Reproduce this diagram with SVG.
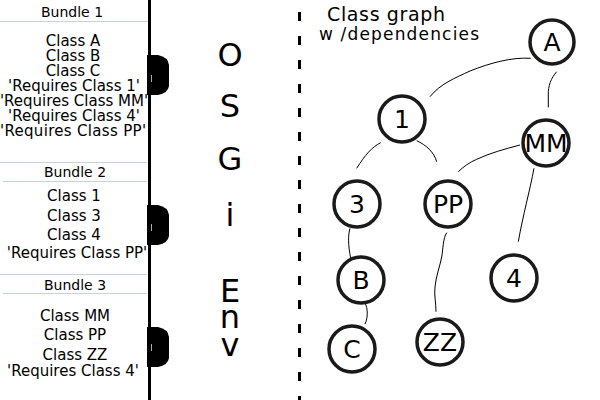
<svg xmlns="http://www.w3.org/2000/svg" width="600" height="400" viewBox="0 0 600 400">
<style>
.t{font-family:"DejaVu Sans","Liberation Sans",sans-serif;fill:#000}
.lst{font-size:15px;text-anchor:middle}
.hd{font-size:14px;text-anchor:middle}
.big{font-size:32px;text-anchor:middle}
.sep{stroke:#c5d3e0;stroke-width:1}
.node circle{fill:#fff;stroke:#1a1a1a;stroke-width:3.5}
.node text{font-family:"DejaVu Sans","Liberation Sans",sans-serif;font-size:25px;text-anchor:middle;fill:#000}
.edge{fill:none;stroke:#000;stroke-width:1}
</style>
<defs>
<path id="tab" d="M147,0 H158 Q168,2 169,10 V31 Q168,38 158,40 H147 Z" fill="#000"/>
</defs>
<rect width="600" height="400" fill="#fff"/>

<g id="bundles">
<line class="sep" x1="0" y1="21.5" x2="148" y2="21.5"/>
<line class="sep" x1="0" y1="162.5" x2="147" y2="162.5"/>
<line class="sep" x1="3" y1="181.5" x2="147" y2="181.5"/>
<line class="sep" x1="0" y1="274.5" x2="147" y2="274.5"/>
<line class="sep" x1="3" y1="293.5" x2="147" y2="293.5"/>
<g id="bundle1">
<text class="t hd" x="72" y="17">Bundle 1</text>
<text class="t lst" x="73" y="46">Class A</text>
<text class="t lst" x="73" y="61">Class B</text>
<text class="t lst" x="73" y="76">Class C</text>
<text class="t lst" x="74" y="91">'Requires Class 1'</text>
<text class="t lst" x="74" y="106">'Requires Class MM'</text>
<text class="t lst" x="74" y="121">'Requires Class 4'</text>
<text class="t lst" x="73" y="136" textLength="146">'Requires Class PP'</text>
</g>
<g id="bundle2">
<text class="t hd" x="75" y="177">Bundle 2</text>
<text class="t lst" x="74" y="201">Class 1</text>
<text class="t lst" x="74" y="221">Class 3</text>
<text class="t lst" x="74" y="240">Class 4</text>
<text class="t lst" x="77" y="258">'Requires Class PP'</text>
</g>
<g id="bundle3">
<text class="t hd" x="75" y="290">Bundle 3</text>
<text class="t lst" x="75" y="321">Class MM</text>
<text class="t lst" x="75" y="340">Class PP</text>
<text class="t lst" x="75" y="360">Class ZZ</text>
<text class="t lst" x="73" y="376">'Requires Class 4'</text>
</g>
<line x1="149.5" y1="0" x2="149.5" y2="400" stroke="#000" stroke-width="3"/>
<use href="#tab" y="55"/>
<use href="#tab" y="205"/>
<use href="#tab" y="327"/>
<line x1="151.5" y1="75" x2="151.5" y2="82" stroke="#aaa" stroke-width="1"/>
<line x1="151.5" y1="224" x2="151.5" y2="231" stroke="#aaa" stroke-width="1"/>
<line x1="151.5" y1="344" x2="151.5" y2="351" stroke="#aaa" stroke-width="1"/>
</g>

<g id="osgi">
<text class="t big" x="230" y="66">O</text>
<text class="t big" x="230" y="117">S</text>
<text class="t big" x="230" y="170">G</text>
<text class="t big" x="230" y="226">i</text>
<text class="t big" x="230" y="302">E</text>
<text class="t big" x="230" y="328">n</text>
<text class="t big" x="230" y="356">v</text>
</g>

<line id="divider" x1="299.5" y1="12" x2="299.5" y2="400" stroke="#000" stroke-width="3" stroke-dasharray="9 15"/>

<g id="title">
<text class="t" x="327" y="21" font-size="19" textLength="118">Class graph</text>
<text class="t" x="319" y="40" font-size="17" textLength="160">w /dependencies</text>
</g>

<g id="connectors">
<path class="edge" d="M530.7,58.3 C512,57 490,63 470,71 C455,78 440,84 430,96.7"/>
<path class="edge" d="M556.7,71.7 C551,78 548,86 548.3,95 L548.3,107.3"/>
<path class="edge" d="M380.7,142.7 C372,147 365,155 356.7,168.3"/>
<path class="edge" d="M416.7,140.7 C426,145 434,152 436.7,161.7"/>
<path class="edge" d="M520,145 C505,149 490,153 476.7,159.3 C470,162 463,167 458.3,171.7"/>
<path class="edge" d="M534,168.3 C530,190 523,215 518.3,241.7"/>
<path class="edge" d="M350,228.3 C348,235 348,245 350.7,258.3"/>
<path class="edge" d="M365,303.3 C368,308 368,318 365,324"/>
<path class="edge" d="M446.7,232.7 C443,238 443,250 441.7,257 C440,266 436,276 435,287 C434,295 436,303 436,311.7"/>
</g>

<g id="node-A" class="node"><circle cx="552" cy="42" r="22"/><text x="552" y="51">A</text></g>
<g id="node-1" class="node"><circle cx="402" cy="119" r="23"/><text x="402" y="128">1</text></g>
<g id="node-MM" class="node"><circle cx="546" cy="143" r="23"/><text x="546" y="152">MM</text></g>
<g id="node-3" class="node"><circle cx="357" cy="204" r="23"/><text x="357" y="213">3</text></g>
<g id="node-PP" class="node"><circle cx="448" cy="204" r="23"/><text x="448" y="213">PP</text></g>
<g id="node-B" class="node"><circle cx="361" cy="280" r="23"/><text x="361" y="289">B</text></g>
<g id="node-4" class="node"><circle cx="514" cy="278" r="23"/><text x="514" y="287">4</text></g>
<g id="node-C" class="node"><circle cx="352" cy="349" r="23"/><text x="352" y="358">C</text></g>
<g id="node-ZZ" class="node"><circle cx="440" cy="342" r="23"/><text x="440" y="351">ZZ</text></g>
</svg>
